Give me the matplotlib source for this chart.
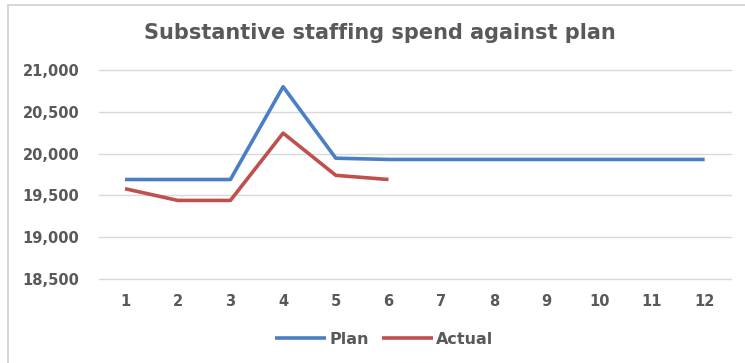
import matplotlib
matplotlib.use("Agg")
import matplotlib.pyplot as plt
from matplotlib.patches import Rectangle
from matplotlib.ticker import FuncFormatter

months = [1, 2, 3, 4, 5, 6, 7, 8, 9, 10, 11, 12]
plan = [19690, 19690, 19690, 20800, 19945, 19930, 19930, 19930, 19930, 19930, 19930, 19930]
actual_months = [1, 2, 3, 4, 5, 6]
actual = [19580, 19440, 19440, 20245, 19740, 19690]
y_ticks = [18500, 19000, 19500, 20000, 20500, 21000]

text_grey = "#595959"
plt.rcParams["font.family"] = ["DejaVu Sans"]

fig = plt.figure(figsize=(7.45, 3.63), dpi=100)
frame = Rectangle((8 / 745, -0.05), 1.0, 1.05 - 5 / 363, transform=fig.transFigure,
                  facecolor="white", edgecolor="#D0D0D0", linewidth=1.2, zorder=-5)
fig.add_artist(frame)

ax = fig.add_axes([98.7 / 745, 1 - 279 / 363, (731 - 98.7) / 745, (279 - 70) / 363])
ax.set_facecolor("none")

ax.plot(months, plan, color="#4A7EC5", linewidth=2.6, label="Plan", solid_capstyle="butt")
ax.plot(actual_months, actual, color="#C0504D", linewidth=2.6, label="Actual", solid_capstyle="butt")

ax.set_xlim(0.5, 12.5)
ax.set_ylim(18500, 21000)
ax.set_yticks(y_ticks)
ax.set_xticks(months)
ax.yaxis.set_major_formatter(FuncFormatter(lambda v, p: f"{int(v):,}"))
ax.grid(axis="y", color="#D9D9D9", linewidth=1.0)
for gl in ax.get_ygridlines():
    gl.set_clip_on(False)
ax.set_axisbelow(True)
for s in ax.spines.values():
    s.set_visible(False)
ax.tick_params(axis="both", length=0, labelsize=10.5, labelcolor=text_grey)
ax.tick_params(axis="y", pad=14)
ax.tick_params(axis="x", pad=11)
for lbl in ax.get_xticklabels() + ax.get_yticklabels():
    lbl.set_fontweight("bold")

fig.text(380 / 745, 1 - 33 / 363, "Substantive staffing spend against plan", ha="center", va="center",
         fontsize=15, color=text_grey, fontweight="bold")

leg = fig.legend(loc="center", bbox_to_anchor=(384 / 745, 1 - 339 / 363), ncol=2, frameon=False,
                 fontsize=11.5, handlelength=3.2, handletextpad=0.2, columnspacing=0.8)
for t in leg.get_texts():
    t.set_color(text_grey)
    t.set_fontweight("bold")

fig.savefig("out.png", dpi=100)
